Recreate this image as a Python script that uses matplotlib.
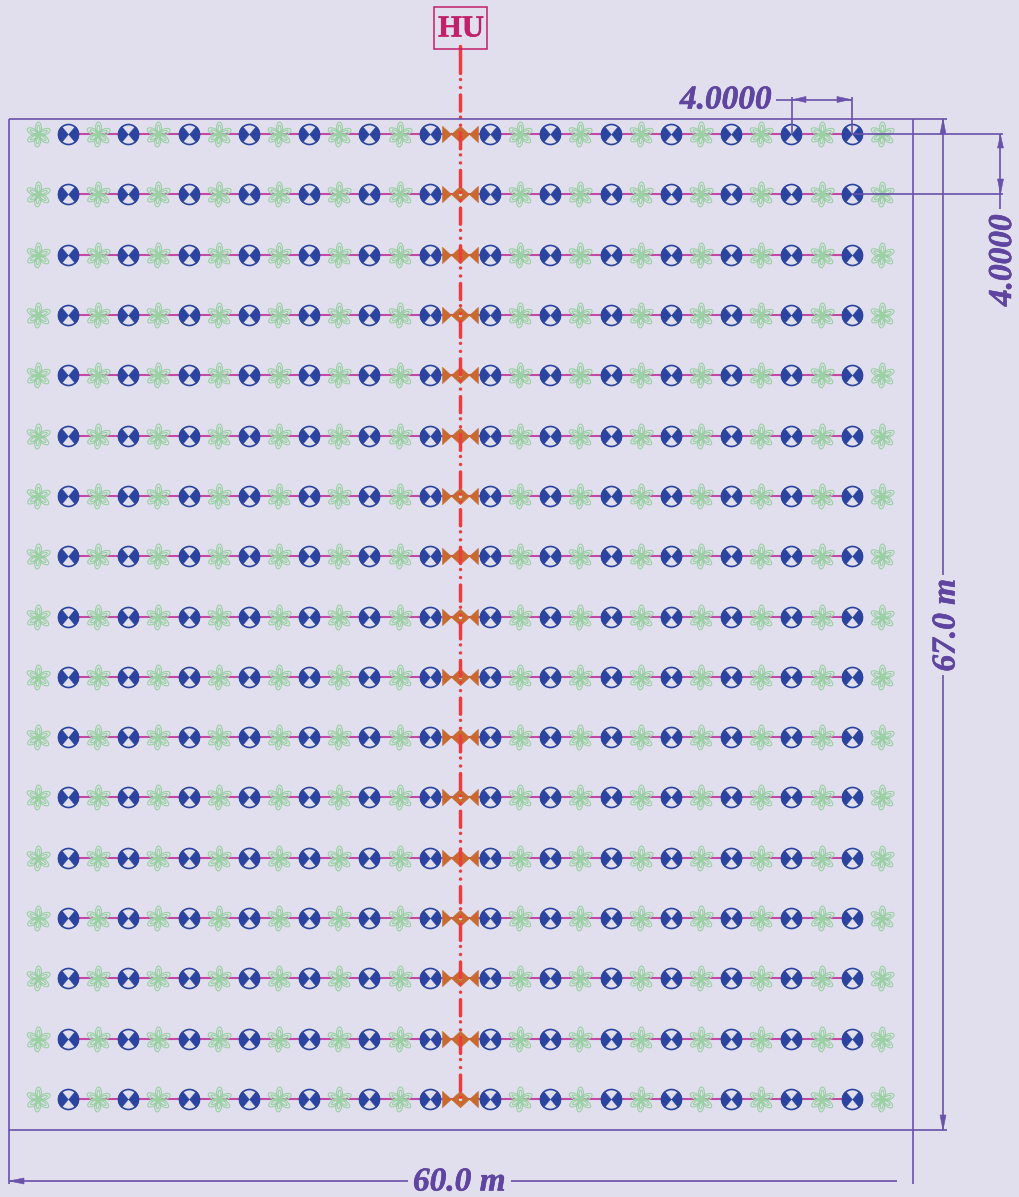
import matplotlib
matplotlib.use('Agg')
import matplotlib.pyplot as plt
import matplotlib.patheffects as pe
from matplotlib.path import Path
from matplotlib.transforms import Affine2D
from matplotlib.patches import Polygon, Rectangle
import numpy as np

# layout, in metres
row_y = [2.05, 6.05, 10.05, 14.05, 18.05, 22.05, 26.05, 30.05, 34.05,
         38.05, 42.05, 46.05, 50.05, 54.05, 58.05, 62.05, 66.05]
valve_x = [3.92, 7.92, 11.92, 15.92, 19.92, 23.92, 27.92,
           31.92, 35.92, 39.92, 43.92, 47.92, 51.92, 55.92]
plant_x = [1.92, 5.92, 9.92, 13.92, 17.92, 21.92, 25.92,
           33.92, 37.92, 41.92, 45.92, 49.92, 53.92, 57.92]
gate_x = [29.33, 30.53]
main_x = 29.93
width_m = 60.0
height_m = 67.0
spacing_label = '4.0000'
main_label = 'HU'

BG = '#e1dfee'
DIM = '#6a51ab'
TXT = '#5f45a0'
BLUE = '#2b44a0'
GREEN = '#9ad0a3'
PIPE = '#c24aa5'
ORANGE = '#c8692e'
RED = '#ee3c3c'
HU = '#c2206b'

SX = 15.07
SY = 15.08
plt.rcParams['lines.scale_dashes'] = False
plt.rcParams['font.family'] = ['Liberation Serif', 'DejaVu Sans']


def mx(px):
    return (px - 9) / SX


def my(py):
    return (1130 - py) / SY


def flower_path():
    # six hollow petals, an outer and an inner loop each
    t = np.linspace(0, 2 * np.pi, 25)
    parts = []
    for a in [90, 23, -38, -97, 212, 153]:
        for length, wide in [(0.5, 0.24), (0.38, 0.11)]:
            px = length * np.cos(t) + length
            py = wide * np.sin(t)
            rt = Affine2D().rotate_deg(a)
            parts.append(Path(rt.transform(np.column_stack([px, py]))))
    parts.append(Path.circle((0, 0), 0.2))
    parts.append(Path.circle((0, 0), 0.1))
    return Path.make_compound_path(*parts)


def valve_wedges():
    return Path.make_compound_path(Path.wedge(130, 230), Path.wedge(-50, 50))


def bowtie():
    h = 0.92
    return Path([(-1, -h), (0, 0), (-1, h), (-1, -h), (1, -h), (0, 0), (1, h), (1, -h)],
                [Path.MOVETO, Path.LINETO, Path.LINETO, Path.CLOSEPOLY] * 2)


fig = plt.figure(figsize=(10.2, 11.97), dpi=100, facecolor=BG)
ax = fig.add_axes([0, 0, 1, 1], facecolor=BG)
ax.set_xlim(mx(0), mx(1020))
ax.set_ylim(my(1197), my(0))
ax.axis('off')

# lateral pipes
for y in row_y:
    ax.plot([valve_x[0], valve_x[-1]], [y, y], color=PIPE, lw=1.5, zorder=2,
            solid_capstyle='butt')

gx, gy = np.meshgrid(plant_x, row_y)
ax.plot(gx.ravel(), gy.ravel(), ls='', marker=flower_path(), ms=18, mfc='none',
        mec=GREEN, mew=0.8, zorder=3)

vx, vy = np.meshgrid(valve_x, row_y)
ax.plot(vx.ravel(), vy.ravel(), ls='', marker='o', ms=14.4, mfc=BG, mec=BLUE,
        mew=1.2, zorder=4)
ax.plot(vx.ravel(), vy.ravel(), ls='', marker=valve_wedges(), ms=15, mfc=BLUE,
        mec=BLUE, mew=0.2, zorder=5)

ox, oy = np.meshgrid(gate_x, row_y)
ax.plot(ox.ravel(), oy.ravel(), ls='', marker=bowtie(), ms=13, mfc=ORANGE,
        mec=ORANGE, mew=0.3, zorder=5)
ax.plot([main_x] * len(row_y), row_y, ls='', marker='o', ms=2.4, mfc=BG, mec='none',
        zorder=5.5)

# main line, a solid stub then dash-dot-dot
ax.plot([main_x, main_x], [my(46), my(73)], color=RED, lw=2.5, zorder=6,
        solid_capstyle='round')
ax.plot([main_x, main_x], [my(79), my(1100)], color=RED, lw=2.5, zorder=6,
        dash_capstyle='round',
        linestyle=(0, (0.01, 5.76, 0.01, 5.4, 11.6, 4.36)))

# outline and extension lines
dim = dict(color=DIM, lw=1.2, zorder=7, solid_capstyle='butt')
ax.plot([mx(9), mx(947)], [my(119), my(119)], **dim)
ax.plot([mx(9), mx(947)], [my(1130), my(1130)], **dim)
ax.plot([mx(9), mx(9)], [my(119), my(1184)], **dim)
ax.plot([mx(913), mx(913)], [my(119), my(1184)], **dim)

# 60 m
ax.plot([mx(9), mx(408)], [my(1181), my(1181)], **dim)
ax.plot([mx(511), mx(897)], [my(1181), my(1181)], **dim)
# 67 m
ax.plot([mx(943), mx(943)], [my(119), my(575)], **dim)
ax.plot([mx(943), mx(943)], [my(675), my(1130)], **dim)
# top 4 m
ax.plot([mx(776), mx(852)], [my(99.5), my(99.5)], **dim)
ax.plot([mx(792), mx(792)], [my(97), my(134)], **dim)
ax.plot([mx(852), mx(852)], [my(97), my(134)], **dim)
# right 4 m
ax.plot([mx(852), mx(1003)], [my(134), my(134)], **dim)
ax.plot([mx(852), mx(1003)], [my(194), my(194)], **dim)
ax.plot([mx(1000.5), mx(1000.5)], [my(134), my(209)], **dim)


def arrow(tip, base, half=3.0):
    # tip and base in pixels, head is a thin filled triangle
    tip = np.array(tip, float)
    base = np.array(base, float)
    d = (tip - base) / np.linalg.norm(tip - base)
    n = np.array([-d[1], d[0]]) * half
    pts = [tip, base + n, base - n]
    ax.add_patch(Polygon([(mx(p[0]), my(p[1])) for p in pts], closed=True,
                         fc=DIM, ec=DIM, lw=0.4, zorder=8))


arrow((9, 1181), (24, 1181))
arrow((943, 119), (943, 134))
arrow((943, 1130), (943, 1115))
arrow((793, 99.5), (806, 99.5))
arrow((851, 99.5), (837, 99.5))
arrow((1000.5, 135), (1000.5, 148))
arrow((1000.5, 194), (1000.5, 179))

heavy = [pe.withStroke(linewidth=0.4, foreground=TXT)]
lab = dict(color=TXT, fontsize=24, fontweight='bold', fontstyle='italic',
           ha='center', va='center', zorder=9, path_effects=heavy)
ax.text(mx(726), my(100), spacing_label, **lab)
ax.text(mx(1002.5), my(260), spacing_label, rotation=90, **lab)
ax.text(mx(459.5), my(1182), f'{width_m:.1f} m', **lab)
ax.text(mx(946), my(625), f'{height_m:.1f} m', rotation=90, **lab)

# HU box
ax.add_patch(Rectangle((mx(434), my(48.5)), 53 / SX, 41.5 / SY, fc='none', ec=HU,
                       lw=1.1, zorder=9))
ax.text(mx(461), my(29), main_label, color=HU, fontsize=22, fontweight='bold',
        ha='center', va='center', zorder=9,
        path_effects=[pe.withStroke(linewidth=0.4, foreground=HU)])

fig.savefig('out.png', dpi=100, facecolor=BG)
